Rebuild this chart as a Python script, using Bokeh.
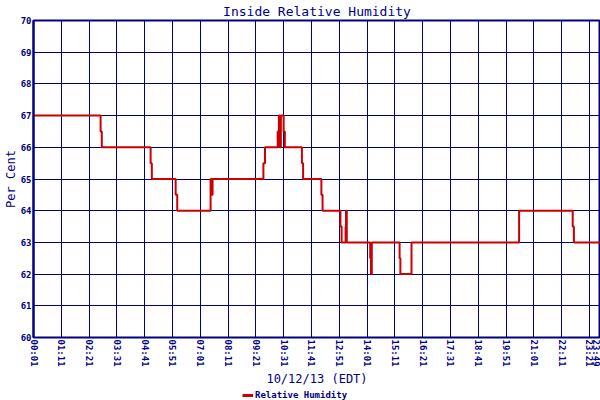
from bokeh.plotting import figure
from bokeh.layouts import column
from bokeh.models import FixedTicker, Range1d, Legend, LegendItem, ColumnDataSource
from bokeh.embed import file_html
from bokeh.resources import INLINE

# ---- data ----
times = ["00:01", "02:50", "02:53", "04:56", "04:59", "05:59", "06:03", "07:27", "07:30",
         "07:32", "09:40", "09:44", "10:16", "10:19", "10:21", "10:24", "10:31", "10:34",
         "11:17", "11:20", "12:06", "12:09", "12:54", "12:57", "13:07", "13:08", "13:10",
         "14:09", "14:11", "14:13", "15:23", "15:25", "15:53", "20:24", "22:39", "22:42",
         "23:49"]
humidity = [67, 66.5, 66, 65.5, 65, 64.5, 64, 65, 64.5,
            65, 65.5, 66, 66.5, 67, 66, 67, 66.5, 66,
            65.5, 65, 64.5, 64, 63.5, 63, 63.5, 64, 63,
            62.5, 62, 63, 62.5, 62, 63, 64, 63.5, 63,
            63]
tick_labels = ["00:01", "01:11", "02:21", "03:31", "04:41", "05:51", "07:01", "08:11",
               "09:21", "10:31", "11:41", "12:51", "14:01", "15:11", "16:21", "17:31",
               "18:41", "19:51", "21:01", "22:11", "23:21", "23:49"]
y_ticks = list(range(60, 71))
series_name = "Relative Humidity"


def to_min(t):
    h, m = t.split(":")
    return int(h) * 60 + int(m)


xs = [to_min(t) for t in times]
tick_pos = [to_min(t) for t in tick_labels]

NAVY = "#000080"
RED = "#cc0000"
FONT = "DejaVu Sans Mono"

p = figure(width=600, height=388, output_backend="svg", toolbar_location=None,
           x_range=Range1d(tick_pos[0], tick_pos[-1]), y_range=Range1d(60, 70),
           min_border_left=20, min_border_right=0, min_border_top=19, min_border_bottom=40,
           border_fill_color="white")

p.title.text = "Inside Relative Humidity"
p.title.align = "center"
p.title.text_font = FONT
p.title.text_font_style = "normal"
p.title.text_font_size = "13px"
p.title.text_color = NAVY
p.title.standoff = 3
p.title.offset = 0

src = ColumnDataSource(dict(x=xs, y=humidity))
r = p.step("x", "y", source=src, mode="after", line_color=RED, line_width=2)

p.xaxis.ticker = FixedTicker(ticks=tick_pos)
p.xaxis.major_label_overrides = {pos: lab for pos, lab in zip(tick_pos, tick_labels)}
p.xaxis.major_label_orientation = "vertical"
p.yaxis.ticker = FixedTicker(ticks=y_ticks)

for ax in (p.xaxis[0], p.yaxis[0]):
    ax.major_label_text_font = FONT
    ax.major_label_text_font_size = "9px"
    ax.major_label_text_font_style = "bold"
    ax.major_label_text_color = NAVY
    ax.axis_label_text_font = FONT
    ax.axis_label_text_font_size = "12px"
    ax.axis_label_text_font_style = "normal"
    ax.axis_label_text_color = NAVY
    ax.axis_line_color = NAVY
    ax.major_tick_line_color = None
    ax.minor_tick_line_color = None
    ax.major_tick_out = 0
    ax.major_tick_in = 0
    ax.major_label_standoff = 2
    ax.axis_label_standoff = 2

p.yaxis.axis_label_standoff = 0
p.xaxis.axis_label = "10/12/13 (EDT)"
p.yaxis.axis_label = "Per Cent"
p.yaxis.axis_line_width = 2
p.xaxis.axis_line_width = 1

p.grid.grid_line_color = NAVY
p.grid.grid_line_alpha = 1
p.grid.grid_line_width = 1
p.outline_line_color = NAVY
p.outline_line_width = 2
p.background_fill_color = "white"

# legend strip below the chart
lg = figure(width=600, height=12, output_backend="svg", toolbar_location=None,
            x_range=Range1d(tick_pos[0], tick_pos[-1]), y_range=Range1d(60, 70),
            min_border=0, border_fill_color="white")
lg.axis.visible = False
lg.grid.visible = False
lg.outline_line_color = None
r2 = lg.step("x", "y", source=src, mode="after", line_color=RED, line_width=3, visible=False)
legend = Legend(items=[LegendItem(label=series_name, renderers=[r2])],
                orientation="horizontal", location=(209, 0),
                label_text_font=FONT, label_text_font_size="9px",
                label_text_font_style="bold", label_text_color=NAVY,
                border_line_color=None, background_fill_alpha=0,
                glyph_width=11, glyph_height=8, padding=0, margin=0,
                label_standoff=2, label_height=8)
lg.add_layout(legend)

layout = column(p, lg, spacing=0)
open("out.html", "w").write(file_html(layout, INLINE))
